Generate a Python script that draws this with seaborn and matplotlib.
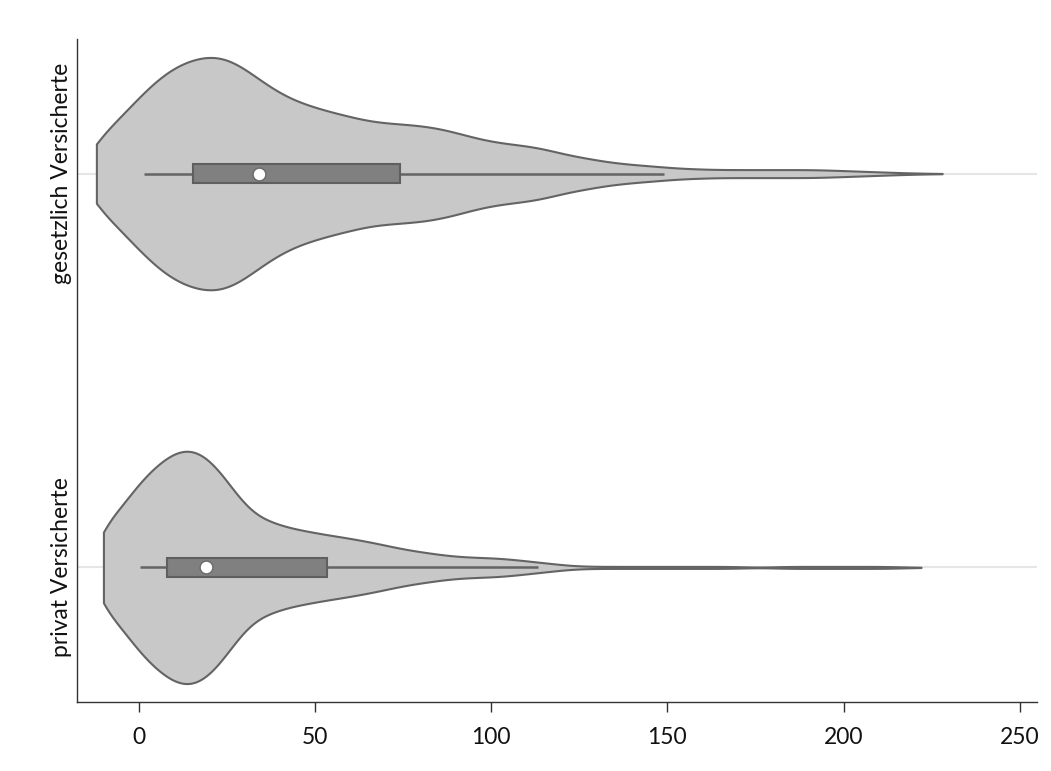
import numpy as np
import pandas as pd
import matplotlib
matplotlib.use("Agg")
import matplotlib.pyplot as plt
from matplotlib.patches import Rectangle
import seaborn as sns

# --- Daten ---
groups = ["gesetzlich Versicherte", "privat Versicherte"]

# Dichteprofil gesetzlich Versicherte (Wert -> relative Häufigkeit)
ges_values = [-12, -8, -4, 0, 4, 8, 12, 16, 20, 24, 28, 32, 36, 40, 44, 48, 52, 56,
              60, 64, 68, 72, 76, 80, 84, 88, 92, 96, 100, 104, 108, 112, 116, 120,
              124, 128, 132, 136, 140, 144, 148, 152, 156, 160, 164, 168, 172, 176,
              180, 184, 188, 192, 196, 200, 204, 208, 212, 216, 220, 224, 228]
ges_density = [38, 45, 61, 76, 90, 102, 110, 115, 118, 117, 110, 100, 89, 80, 73, 68,
               64, 60, 57, 53, 51, 50, 49, 48, 46, 43, 39, 35, 32, 30, 28.5, 27, 24,
               20, 17, 15, 12, 10.5, 9, 8, 7, 5.5, 5, 4.5, 4, 4, 4, 4, 4, 4, 4, 4,
               3.5, 3, 2.5, 2, 1.5, 1, 0.6, 0.3, 0.1]

# Dichteprofil privat Versicherte
priv_values = [-10, -6, -2, 2, 6, 10, 14, 18, 22, 26, 30, 34, 38, 42, 46, 50, 54, 58,
               62, 66, 70, 74, 78, 82, 86, 90, 94, 98, 102, 106, 110, 114, 118, 122,
               126, 130, 134, 138, 142, 146, 150, 154, 158, 162, 166, 170, 174, 178,
               182, 186, 190, 194, 198, 202, 206, 210, 214, 218, 222]
priv_density = [42, 55, 74, 91, 104, 114, 118, 113, 100, 81, 62, 50, 44.5, 40, 37,
                34.5, 32, 30, 27.5, 25, 22, 19, 16.5, 14.5, 12.5, 11, 10.2, 9.7, 9.2,
                8, 6.5, 5, 3.5, 2, 1.3, 1, 1, 1, 1, 1, 1, 1, 1, 1, 1, 0.8, 0.3, 0.3,
                0.8, 1, 1, 1, 1, 1, 1, 1, 0.8, 0.4, 0.1]

# Boxplot-Kennwerte
box_q1 = [15.3, 8.1]
box_med = [34.2, 19.1]
box_q3 = [74.2, 53.5]
whisk_lo = [1.4, 0.3]
whisk_hi = [149.1, 113.3]

x_ticks = [0, 50, 100, 150, 200, 250]

# --- Tabelle für seaborn ---
ges = np.repeat(ges_values, np.round(np.array(ges_density) * 10).astype(int))
priv = np.repeat(priv_values, np.round(np.array(priv_density) * 10).astype(int))
df = pd.DataFrame({
    "wert": np.concatenate([ges, priv]).astype(float),
    "gruppe": [groups[0]] * len(ges) + [groups[1]] * len(priv),
})

# --- Stil ---
sns.set_style("white")
plt.rcParams["font.family"] = ["Lato", "DejaVu Sans"]

fig = plt.figure(figsize=(10.51, 7.71), dpi=100)
ax = fig.add_axes([0.0736, 0.0899, 0.9134, 0.8591])

sns.violinplot(
    data=df, x="wert", y="gruppe", order=groups, orient="y",
    color="#c8c8c8", saturation=1, linecolor="#646464", linewidth=1.5,
    inner=None, cut=0, bw_method=0.1, gridsize=400,
    density_norm="width", width=0.59, ax=ax,
)

# Box, Whisker und Median
box_h = 0.048
for i in range(len(groups)):
    ax.plot([whisk_lo[i], whisk_hi[i]], [i, i], color="#646464", lw=1.8,
            solid_capstyle="butt", zorder=3)
    ax.add_patch(Rectangle((box_q1[i], i - box_h / 2), box_q3[i] - box_q1[i], box_h,
                           facecolor="#808080", edgecolor="#5f5f5f", lw=1.5, zorder=4))
    ax.scatter([box_med[i]], [i], s=85, color="white", edgecolor="#6a6a6a",
               linewidth=1, zorder=5)

ax.set_xlim(-17.4, 255)
ax.set_ylim(1.341, -0.341)
ax.set_xticks(x_ticks)
ax.set_xlabel("")
ax.set_ylabel("")

ax.grid(axis="y", color="#e6e6e6", lw=1.5)
ax.grid(axis="x", visible=False)
ax.set_axisbelow(True)

ax.tick_params(axis="x", direction="out", length=7, width=1, color="#333333",
               labelsize=16.5, labelcolor="#111111", pad=11, bottom=True)
ax.tick_params(axis="y", length=0, labelsize=16.5, labelcolor="#111111", pad=4)
for lab in ax.get_yticklabels():
    lab.set_rotation(90)
    lab.set_va("center")

sns.despine(ax=ax)
for s in ["left", "bottom"]:
    ax.spines[s].set_color("#333333")
    ax.spines[s].set_linewidth(1)

fig.savefig("out.png", dpi=100)
